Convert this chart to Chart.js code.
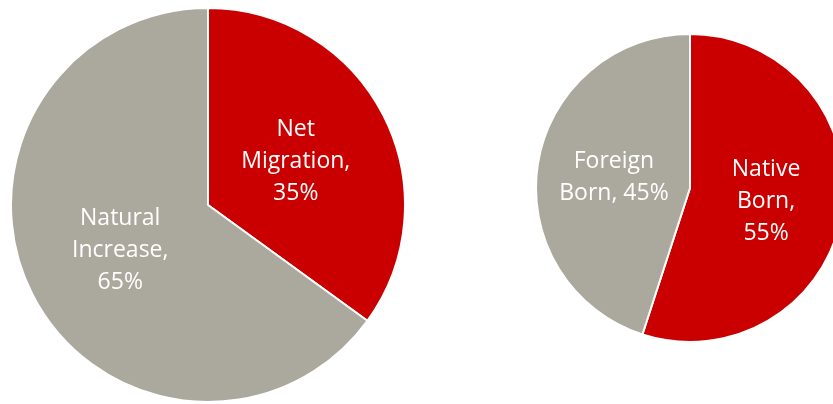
<!DOCTYPE html>
<html>
<head>
<meta charset="utf-8">
<script src="https://cdn.jsdelivr.net/npm/chart.js@4/dist/chart.umd.min.js"></script>
<style>
html,body{margin:0;padding:0;background:#fff;width:833px;height:404px;overflow:hidden;position:relative;}
canvas{position:absolute;}
</style>
</head>
<body>
<canvas id="left" width="396" height="396" style="left:10px;top:7px;width:396px;height:396px"></canvas>
<canvas id="right" width="310" height="310" style="left:535px;top:33px;width:310px;height:310px"></canvas>
<script>
const leftLabels = [["Net", "Migration,", "35%"], ["Natural", "Increase,", "65%"]];
const leftValues = [35, 65];
const rightLabels = [["Native", "Born,", "55%"], ["Foreign", "Born, 45%"]];
const rightValues = [55, 45];
const colors = ["#CA0000", "#ABA99D"];

const labelPlugin = {
  id: 'sliceLabels',
  afterDatasetsDraw(chart) {
    const ctx = chart.ctx;
    const meta = chart.getDatasetMeta(0);
    const lines = chart.options.plugins.sliceLabels.lines;
    ctx.save();
    ctx.fillStyle = '#ffffff';
    ctx.font = '23px "Open Sans", Lato, sans-serif';
    ctx.textAlign = 'center';
    ctx.textBaseline = 'middle';
    const lh = 32;
    meta.data.forEach((arc, i) => {
      const p = arc.getProps(['x','y','startAngle','endAngle','outerRadius'], true);
      const mid = (p.startAngle + p.endAngle) / 2;
      const r = p.outerRadius * 0.5;
      const cx = p.x + Math.cos(mid) * r;
      const cy = p.y + Math.sin(mid) * r + 1;
      const ls = lines[i];
      const y0 = cy - (ls.length - 1) * lh / 2;
      ls.forEach((t, k) => ctx.fillText(t, cx, y0 + k * lh));
    });
    ctx.restore();
  }
};

function makePie(id, values, lines) {
  new Chart(document.getElementById(id), {
    type: 'pie',
    data: {
      labels: lines.map(l => l.join(' ')),
      datasets: [{
        data: values,
        backgroundColor: colors,
        borderColor: '#ffffff',
        borderWidth: 2
      }]
    },
    options: {
      responsive: false,
      animation: false,
      layout: { padding: 0 },
      plugins: {
        legend: { display: false },
        tooltip: { enabled: false },
        sliceLabels: { lines: lines }
      }
    },
    plugins: [labelPlugin]
  });
}
makePie('left', leftValues, leftLabels);
makePie('right', rightValues, rightLabels);
</script>
</body>
</html>
